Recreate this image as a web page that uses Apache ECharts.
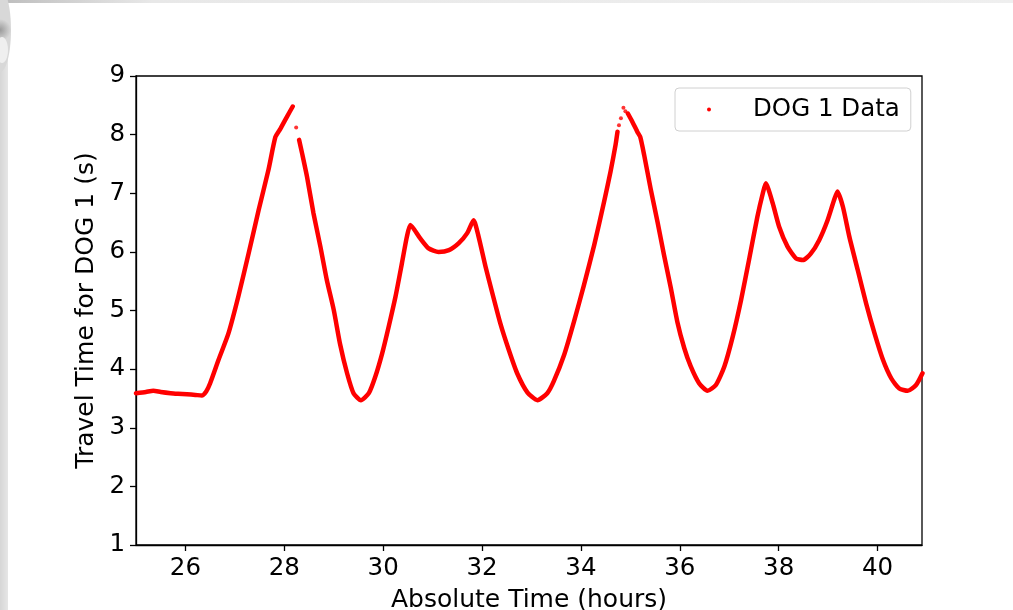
<!DOCTYPE html>
<html>
<head>
<meta charset="utf-8">
<script src="https://cdn.jsdelivr.net/npm/echarts@6/dist/echarts.min.js"></script>
<style>
html,body{margin:0;padding:0;background:#fff;}
#chart{width:1013px;height:610px;}
</style>
</head>
<body>
<div id="chart"></div>
<script>
// Absolute time (hours) and travel time (s); null marks a gap in the trace
var timeHours = [
  25.00,25.20,25.35,25.50,25.70,25.85,26.03,26.20,26.33,26.42,26.50,26.67,26.87,27.07,27.28,27.48,27.68,27.82,27.92,28.05,28.17,
  null,
  28.30,28.36,28.46,28.59,28.73,28.86,29.00,29.13,29.27,29.40,29.55,29.71,29.84,29.98,30.11,30.25,30.38,30.48,30.55,30.75,30.92,31.12,31.33,31.53,31.70,31.83,31.93,32.07,32.21,32.37,32.54,32.71,32.92,33.12,33.32,33.45,33.66,33.86,34.06,34.27,34.47,34.60,34.70,34.74,
  null,
  34.95,35.04,35.14,35.20,35.28,35.41,35.55,35.68,35.82,35.95,36.09,36.22,36.39,36.56,36.73,36.90,37.07,37.24,37.40,37.57,37.68,37.74,37.88,38.01,38.18,38.35,38.49,38.65,38.82,38.99,39.12,39.19,39.30,39.43,39.60,39.77,39.94,40.11,40.28,40.44,40.61,40.78,40.91
];
var travelTime = [
  3.59,3.61,3.63,3.61,3.59,3.58,3.57,3.56,3.55,3.62,3.76,4.16,4.61,5.24,5.98,6.71,7.40,7.96,8.10,8.30,8.48,
  null,
  7.91,7.68,7.28,6.66,6.09,5.52,5.01,4.42,3.93,3.59,3.47,3.59,3.87,4.27,4.72,5.24,5.81,6.26,6.46,6.23,6.06,6.00,6.03,6.15,6.32,6.54,6.26,5.75,5.29,4.78,4.33,3.93,3.60,3.47,3.59,3.79,4.24,4.81,5.43,6.12,6.86,7.37,7.82,8.05,
  null,
  8.36,8.22,8.05,7.96,7.65,7.08,6.51,5.95,5.38,4.81,4.36,4.05,3.76,3.63,3.73,4.04,4.55,5.18,5.86,6.60,7.00,7.17,6.83,6.43,6.09,5.89,5.86,5.97,6.20,6.54,6.88,7.03,6.77,6.26,5.69,5.12,4.61,4.16,3.84,3.67,3.63,3.73,3.93
];
// sparse isolated samples near the peaks
var sparseTimes = [28.24, 34.77, 34.81, 34.86, 34.90];
var sparseValues = [8.12, 8.16, 8.28, 8.46, 8.40];

var xTicks = [26, 28, 30, 32, 34, 36, 38, 40];
var yTicks = [1, 2, 3, 4, 5, 6, 7, 8, 9];
var seriesName = 'DOG 1 Data';
var xName = 'Absolute Time (hours)';
var yName = 'Travel Time for DOG 1 (s)';

var lineData = timeHours.map(function (t, i) {
  return t === null ? [null, null] : [t, travelTime[i]];
});
var dotData = sparseTimes.map(function (t, i) { return [t, sparseValues[i]]; });

var FONT = 'DejaVu Sans';
var chart = echarts.init(document.getElementById('chart'), null, {renderer: 'canvas'});
chart.setOption({
  backgroundColor: '#fff',
  animation: false,
  graphic: [
    {type: 'rect', shape: {x: 0, y: 0, width: 8, height: 610}, style: {fill: new echarts.graphic.LinearGradient(0, 0, 1, 0, [{offset: 0, color: '#d6d6d6'}, {offset: 1, color: '#e6e6e6'}])}, silent: true, z: -10},
    {type: 'rect', shape: {x: 0, y: 0, width: 1013, height: 3}, style: {fill: new echarts.graphic.LinearGradient(0, 0, 1, 0, [{offset: 0, color: '#bdbdbd'}, {offset: 0.15, color: '#e8e8e8'}, {offset: 1, color: '#efefef'}])}, silent: true, z: -10},
    {type: 'ellipse', shape: {cx: 0, cy: 30, rx: 11, ry: 42}, style: {fill: new echarts.graphic.RadialGradient(0.5, 0.5, 0.5, [{offset: 0, color: '#9a9a9a'}, {offset: 1, color: '#d8d8d8'}])}, silent: true, z: -9},
    {type: 'ellipse', shape: {cx: 2, cy: 50, rx: 6, ry: 13}, style: {fill: '#efefef'}, silent: true, z: -8}
  ],
  grid: {left: 136, right: 91, top: 76, bottom: 65, outerBoundsMode: 'none', containLabel: false, show: true, borderColor: '#000', borderWidth: 1.3, backgroundColor: 'transparent'},
  legend: {
    show: true,
    left: 675, top: 88,
    data: [{name: seriesName, icon: 'circle'}],
    itemWidth: 4, itemHeight: 4,
    padding: [9, 11, 9, 32],
    borderColor: '#d0d0d0', borderWidth: 1, borderRadius: 4,
    backgroundColor: 'rgba(255,255,255,0.8)',
    formatter: '{p|{name}}',
    textStyle: {fontFamily: FONT, fontSize: 24.5, color: '#000', lineHeight: 25,
      rich: {p: {fontFamily: FONT, fontSize: 24.5, color: '#000', lineHeight: 25, padding: [0, 0, 0, 37]}}}
  },
  xAxis: {
    type: 'value', min: 25, max: 40.9,
    name: xName, nameLocation: 'middle', nameGap: 43,
    nameTextStyle: {fontFamily: FONT, fontSize: 25, color: '#000'},
    axisLine: {show: true, lineStyle: {color: '#000', width: 1.3}},
    axisTick: {show: true, length: 6, inside: false, lineStyle: {color: '#000', width: 1.3}, customValues: xTicks},
    axisLabel: {fontFamily: FONT, fontSize: 24.5, color: '#000', margin: 11, customValues: xTicks},
    splitLine: {show: false}
  },
  yAxis: {
    type: 'value', min: 1, max: 9, interval: 1,
    name: yName, nameLocation: 'middle', nameGap: 36, nameRotate: 90,
    nameTextStyle: {fontFamily: FONT, fontSize: 25, color: '#000'},
    axisLine: {show: true, lineStyle: {color: '#000', width: 1.3}},
    axisTick: {show: true, length: 6, inside: false, lineStyle: {color: '#000', width: 1.3}, customValues: yTicks},
    axisLabel: {fontFamily: FONT, fontSize: 24.5, color: '#000', margin: 11, customValues: yTicks},
    splitLine: {show: false}
  },
  series: [
    {
      name: seriesName, type: 'line', data: lineData,
      showSymbol: false, connectNulls: false,
      smooth: 0.2,
      lineStyle: {color: '#ff0000', width: 4.5, join: 'round', cap: 'round'},
      itemStyle: {color: '#ff0000'},
      emphasis: {disabled: true}
    },
    {
      name: seriesName, type: 'scatter', data: dotData,
      symbolSize: 4, itemStyle: {color: '#ff0000'},
      emphasis: {disabled: true}
    }
  ]
});
</script>
</body>
</html>
